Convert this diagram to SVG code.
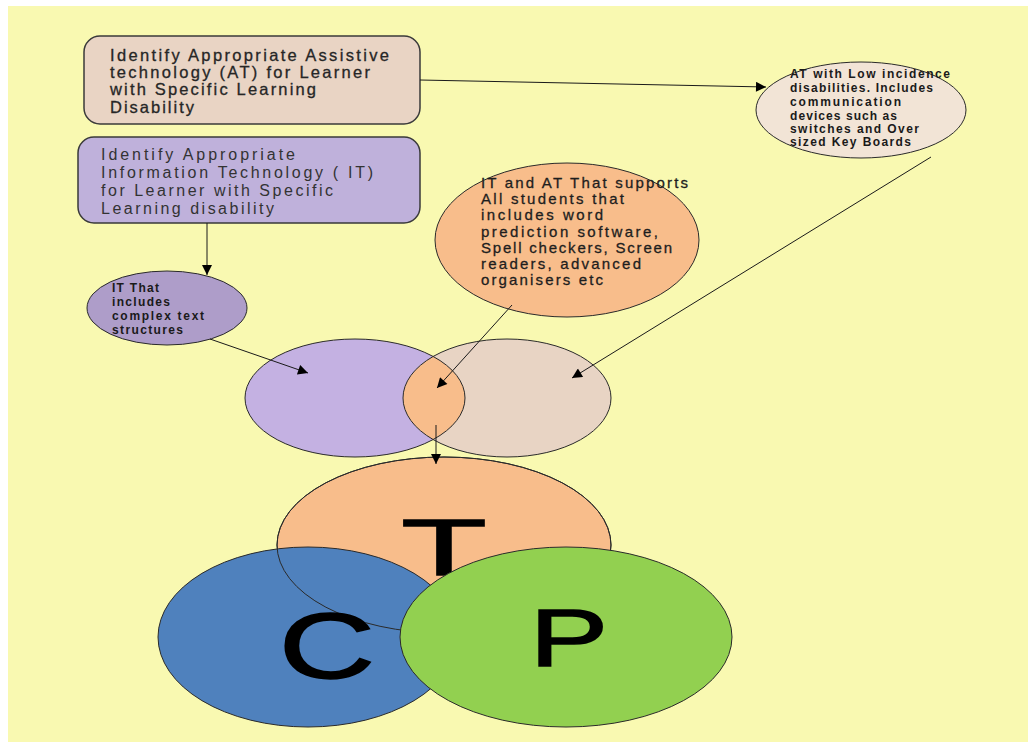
<svg xmlns="http://www.w3.org/2000/svg" width="1029" height="743" viewBox="0 0 1029 743">
<style>
.box{stroke:#3a3a3a;stroke-width:1.5}
.shp{stroke:#2a2a2a;stroke-width:1}
.t1{font-family:"Liberation Sans",Arial,sans-serif;font-size:16.5px;fill:#262626;stroke:#262626;stroke-width:0.3}
.t2{font-family:"Liberation Sans",Arial,sans-serif;font-size:16px;fill:#333333}
.t3{font-family:"Liberation Sans",Arial,sans-serif;font-size:15px;fill:#1e1e1e;stroke:#1e1e1e;stroke-width:0.3}
.tb{font-family:"Liberation Sans",Arial,sans-serif;font-size:12px;font-weight:bold;fill:#1a1a1a}
.big{font-family:"Liberation Sans",Arial,sans-serif;fill:#000;stroke:#000;stroke-width:1.5;text-anchor:middle}
.con{stroke:#1a1a1a;stroke-width:1;fill:none;marker-end:url(#ah)}
</style>
<defs>
<marker id="ah" viewBox="0 0 10 10" refX="10" refY="5" markerUnits="userSpaceOnUse" markerWidth="13" markerHeight="10" orient="auto">
<path d="M0,0 L10,5 L0,10 z" fill="#000"/>
</marker>
<clipPath id="vl"><ellipse cx="355" cy="398" rx="110" ry="59"/></clipPath>
</defs>
<rect x="0" y="0" width="1029" height="743" fill="#ffffff"/>
<rect x="8" y="6" width="1020" height="736" fill="#F9F9B1"/>

<g id="box-at">
<rect class="box" x="84" y="36" width="336" height="88" rx="16" fill="#E9D4C4"/>
<text class="t1" x="110" y="61" textLength="279" lengthAdjust="spacing">Identify Appropriate Assistive</text>
<text class="t1" x="110" y="78" textLength="260" lengthAdjust="spacing">technology (AT) for Learner</text>
<text class="t1" x="110" y="95" textLength="206" lengthAdjust="spacing">with Specific Learning</text>
<text class="t1" x="110" y="113" textLength="84" lengthAdjust="spacing">Disability</text>
</g>

<g id="box-it">
<rect class="box" x="78" y="137" width="342" height="86" rx="16" fill="#BFB1DB"/>
<text class="t2" x="101" y="160" textLength="194" lengthAdjust="spacing">Identify Appropriate</text>
<text class="t2" x="101" y="178" textLength="272" lengthAdjust="spacing">Information Technology ( IT)</text>
<text class="t2" x="101" y="196" textLength="232" lengthAdjust="spacing">for Learner with Specific</text>
<text class="t2" x="101" y="214" textLength="173" lengthAdjust="spacing">Learning disability</text>
</g>

<g id="it-complex">
<ellipse class="shp" cx="167" cy="308" rx="80" ry="37" fill="#AE9DC9"/>
<text class="tb" x="112" y="292" textLength="47" lengthAdjust="spacing">IT That</text>
<text class="tb" x="112" y="306" textLength="58" lengthAdjust="spacing">includes</text>
<text class="tb" x="112" y="320" textLength="92" lengthAdjust="spacing">complex text</text>
<text class="tb" x="112" y="334" textLength="71" lengthAdjust="spacing">structures</text>
</g>

<g id="at-low">
<ellipse class="shp" cx="861" cy="110" rx="105" ry="48" fill="#F2E4D6"/>
<text class="tb" x="790" y="78" textLength="160" lengthAdjust="spacing">AT with Low incidence</text>
<text class="tb" x="790" y="92" textLength="143" lengthAdjust="spacing">disabilities. Includes</text>
<text class="tb" x="790" y="106" textLength="111" lengthAdjust="spacing">communication</text>
<text class="tb" x="790" y="120" textLength="107" lengthAdjust="spacing">devices such as</text>
<text class="tb" x="790" y="133" textLength="129" lengthAdjust="spacing">switches and Over</text>
<text class="tb" x="790" y="146" textLength="121" lengthAdjust="spacing">sized Key Boards</text>
</g>

<g id="it-at-all">
<ellipse class="shp" cx="567" cy="240" rx="132" ry="77" fill="#F8BD8B"/>
<text class="t3" x="481" y="188" textLength="207" lengthAdjust="spacing">IT and AT That supports</text>
<text class="t3" x="481" y="204" textLength="143" lengthAdjust="spacing">All students that</text>
<text class="t3" x="481" y="220" textLength="122" lengthAdjust="spacing">includes word</text>
<text class="t3" x="481" y="237" textLength="177" lengthAdjust="spacing">prediction software,</text>
<text class="t3" x="481" y="253" textLength="191" lengthAdjust="spacing">Spell checkers, Screen</text>
<text class="t3" x="481" y="269" textLength="160" lengthAdjust="spacing">readers, advanced</text>
<text class="t3" x="481" y="285" textLength="122" lengthAdjust="spacing">organisers etc</text>
</g>

<g id="venn">
<ellipse cx="355" cy="398" rx="110" ry="59" fill="#C4B1E2"/>
<ellipse cx="507" cy="398" rx="104" ry="59" fill="#E8D4C4"/>
<ellipse cx="507" cy="398" rx="104" ry="59" fill="#F8BD8B" clip-path="url(#vl)"/>
<ellipse class="shp" cx="355" cy="398" rx="110" ry="59" fill="none"/>
<ellipse class="shp" cx="507" cy="398" rx="104" ry="59" fill="none"/>
</g>

<g id="tcp">
<ellipse class="shp" cx="444" cy="545" rx="167" ry="88" fill="#F8BD8B"/>
<text class="big" font-size="80" transform="translate(444,575) scale(1.75,1)">T</text>
<ellipse class="shp" cx="308" cy="637" rx="150" ry="90" fill="#4F81BD"/>
<ellipse class="shp" cx="444" cy="545" rx="167" ry="88" fill="none"/>
<text class="big" font-size="92" transform="translate(327,678) scale(1.45,1)">C</text>
<ellipse class="shp" cx="566" cy="637" rx="166" ry="90" fill="#92D050"/>
<text class="big" font-size="81" transform="translate(569,666) scale(1.45,1)">P</text>
</g>

<g id="connectors">
<line class="con" x1="420" y1="80" x2="766" y2="87"/>
<line class="con" x1="207" y1="223" x2="207" y2="275"/>
<line class="con" x1="210" y1="339" x2="308" y2="373"/>
<line class="con" x1="931" y1="157" x2="572" y2="378"/>
<line class="con" x1="512" y1="305" x2="437" y2="388"/>
<line class="con" x1="436" y1="425" x2="436" y2="464"/>
</g>
</svg>
